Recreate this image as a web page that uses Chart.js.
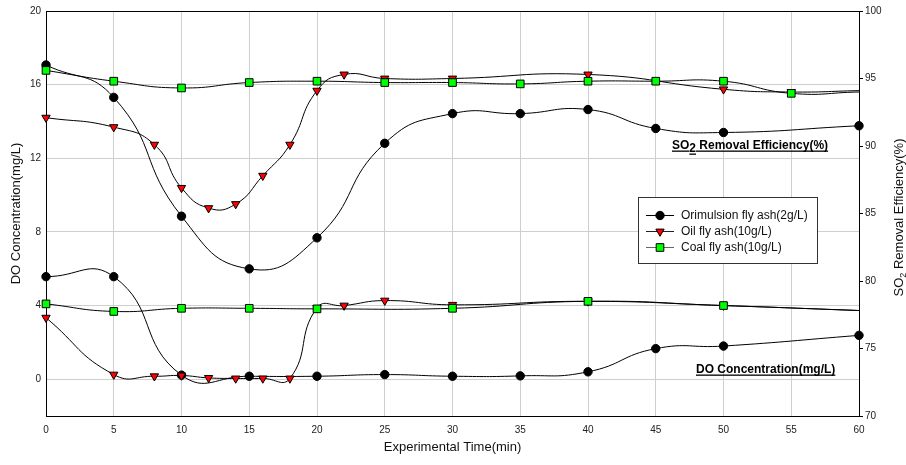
<!DOCTYPE html>
<html><head><meta charset="utf-8">
<script src="https://cdn.jsdelivr.net/npm/chart.js@4/dist/chart.umd.min.js"></script>
<style>html,body{margin:0;padding:0;background:#fff;}#wrap{width:906px;height:465px;position:relative}</style>
</head><body><div id="wrap"><canvas id="c" width="906" height="465"></canvas></div>
<script>
// ---- tick labels ----
const xTicks = [0,5,10,15,20,25,30,35,40,45,50,55,60];
const doTicks = [0,4,8,12,16,20];
const so2Ticks = [70,75,80,85,90,95,100];

// ---- SO2 removal efficiency (%), right axis ----
const orimSo2Time = [0,5,10,15,20,25,30,35,40,45,50,60];
const orimSo2     = [96.0,93.6,84.8,80.9,83.2,90.2,92.4,92.4,92.7,91.3,91.0,91.5];
const oilSo2Time  = [0,5,8,10,12,14,16,18,20,22,25,30,40,50,55,60];
const oilSo2      = [92.1,91.4,90.1,86.9,85.4,85.7,87.8,90.1,94.1,95.3,95.0,95.0,95.3,94.2,94.0,94.1];
const coalSo2Time = [0,5,10,15,20,25,30,35,40,45,50,55,60];
const coalSo2     = [95.6,94.8,94.3,94.7,94.8,94.7,94.7,94.6,94.8,94.8,94.8,93.9,94.0];

// ---- DO concentration (mg/L), left axis ----
const orimDoTime = [0,5,10,15,20,25,30,35,40,45,50,60];
const orimDo     = [5.57,5.57,0.22,0.16,0.16,0.25,0.16,0.18,0.40,1.66,1.80,2.38];
const oilDoTime  = [0,5,8,10,12,14,16,18,20,22,25,30,40,50,60];
const oilDo      = [3.34,0.25,0.16,0.20,0.07,0.04,0.04,0.04,3.87,4.00,4.27,4.04,4.23,4.00,3.73];
const coalDoTime = [0,5,10,15,20,30,40,50,60];
const coalDo     = [4.09,3.68,3.85,3.85,3.82,3.85,4.23,4.00,3.73];

const seriesNames = ['Orimulsion fly ash(2g/L)','Oil fly ash(10g/L)','Coal fly ash(10g/L)'];

const FONT = 'Arial, "Liberation Sans", sans-serif';
const styles = [
  {pointStyle:'circle', rotation:0, radius:4.2, fill:'#000000', order:3, legendLine:'#000'},
  {pointStyle:'triangle', rotation:180, radius:4.8, fill:'#ff0000', order:2, legendLine:'#222'},
  {pointStyle:'rect', rotation:0, radius:5.4, fill:'#00ff00', order:1, legendLine:'#666'}
];

function makeDs(idx, times, vals, axis, hideLast){
  const s = styles[idx];
  return {
    label: seriesNames[idx],
    data: times.map((t,i)=>({x:t, y:vals[i]})),
    yAxisID: axis,
    borderColor:'#000', borderWidth:1, tension:0.5, fill:false,
    pointStyle:s.pointStyle, rotation:s.rotation,
    pointBackgroundColor:s.fill, pointBorderColor:'#000', pointBorderWidth:1,
    pointRadius: c => (hideLast && c.raw && c.raw.x === 60) ? 0 : s.radius,
    pointHoverRadius: c => (hideLast && c.raw && c.raw.x === 60) ? 0 : s.radius,
    clip: 12, order: s.order
  };
}

function underlined(ctx, parts, x, y){
  let cx = x;
  for (const p of parts){
    const w = ctx.measureText(p.t).width;
    ctx.fillText(p.t, cx, y + p.dy);
    ctx.fillRect(cx, y + p.dy + 1.5, w, 1.3);
    cx += w;
  }
}

const deco = {
  id:'deco',
  afterDraw(chart){
    const ctx = chart.ctx, a = chart.chartArea;
    ctx.save();
    // top frame line
    ctx.strokeStyle = '#000'; ctx.lineWidth = 1;
    ctx.beginPath(); ctx.moveTo(a.left, Math.round(a.top)+0.5); ctx.lineTo(a.right+0.5, Math.round(a.top)+0.5); ctx.stroke();

    ctx.fillStyle = '#111';
    // axis titles
    ctx.font = '13px ' + FONT;
    ctx.textBaseline = 'middle'; ctx.textAlign = 'center';
    ctx.fillText('Experimental Time(min)', (a.left + a.right)/2, 447);
    ctx.save();
    ctx.translate(16, (a.top + a.bottom)/2);
    ctx.rotate(-Math.PI/2);
    ctx.fillText('DO Concentration(mg/L)', 0, 0);
    ctx.restore();
    // right title with subscript
    ctx.save();
    ctx.translate(898, (a.top + a.bottom)/2 + 4);
    ctx.rotate(-Math.PI/2);
    ctx.textAlign = 'left'; ctx.textBaseline = 'alphabetic';
    const p1 = 'SO', p3 = ' Removal Efficiency(%)';
    ctx.font = '13px ' + FONT;
    const w1 = ctx.measureText(p1).width, w3 = ctx.measureText(p3).width;
    ctx.font = '9px ' + FONT;
    const w2 = ctx.measureText('2').width;
    const tot = w1 + w2 + w3;
    let sx = -tot/2;
    ctx.font = '13px ' + FONT; ctx.fillText(p1, sx, 5); sx += w1;
    ctx.font = '9px ' + FONT; ctx.fillText('2', sx, 8); sx += w2;
    ctx.font = '13px ' + FONT; ctx.fillText(p3, sx, 5);
    ctx.restore();

    // bold underlined annotations
    ctx.fillStyle = '#000';
    ctx.font = 'bold 12px ' + FONT;
    ctx.textAlign = 'left'; ctx.textBaseline = 'alphabetic';
    underlined(ctx, [{t:'SO',dy:0},{t:'2',dy:3},{t:' Removal Efficiency(%)',dy:0}], 672, 149);
    underlined(ctx, [{t:'DO Concentration(mg/L)',dy:0}], 696, 373);

    // legend box
    const bx = 638, by = 197, bw = 179, bh = 66;
    ctx.fillStyle = '#fff'; ctx.fillRect(bx, by, bw, bh);
    ctx.strokeStyle = '#333'; ctx.lineWidth = 1;
    ctx.strokeRect(bx + 0.5, by + 0.5, bw, bh);
    const rows = [215, 231, 247];
    ctx.font = '12px ' + FONT; ctx.textBaseline = 'middle';
    styles.forEach((s, i) => {
      const y = rows[i];
      ctx.strokeStyle = s.legendLine; ctx.lineWidth = 1;
      ctx.beginPath(); ctx.moveTo(646, y + 0.5); ctx.lineTo(674, y + 0.5); ctx.stroke();
      ctx.fillStyle = s.fill; ctx.strokeStyle = '#000';
      Chart.helpers.drawPoint(ctx, {pointStyle:s.pointStyle, rotation:s.rotation, radius:s.radius, borderWidth:1}, 660, y + 0.5);
      ctx.fillStyle = '#111';
      ctx.fillText(seriesNames[i], 681, y + 1);
    });
    ctx.restore();
  }
};

new Chart(document.getElementById('c'), {
  type:'line',
  data:{ datasets:[
    makeDs(0, orimSo2Time, orimSo2, 'y1', false),
    makeDs(1, oilSo2Time, oilSo2, 'y1', true),
    makeDs(2, coalSo2Time, coalSo2, 'y1', true),
    makeDs(0, orimDoTime, orimDo, 'y', false),
    makeDs(1, oilDoTime, oilDo, 'y', true),
    makeDs(2, coalDoTime, coalDo, 'y', true)
  ]},
  options:{
    responsive:false, animation:false, devicePixelRatio:1, events:[],
    layout:{ padding:{ top:9, left:0, right:0, bottom:0 } },
    plugins:{ legend:{display:false}, tooltip:{enabled:false} },
    scales:{
      x:{ type:'linear', min:0, max:60,
        afterBuildTicks: s => { s.ticks = xTicks.map(v => ({value:v})); },
        afterFit: s => { s.height = 49; },
        ticks:{ font:{size:10, family:FONT}, color:'#222', padding:8, maxRotation:0, autoSkip:false },
        grid:{ color:'#cfcfcf', drawTicks:false },
        border:{ color:'#000', width:1 } },
      y:{ type:'linear', position:'left', min:-2, max:20,
        afterBuildTicks: s => { s.ticks = doTicks.map(v => ({value:v})); },
        afterFit: s => { s.width = 46; },
        ticks:{ font:{size:10, family:FONT}, color:'#222', padding:5 },
        grid:{ color:'#cfcfcf', drawTicks:false },
        border:{ color:'#000', width:1 } },
      y1:{ type:'linear', position:'right', min:70, max:100,
        afterBuildTicks: s => { s.ticks = so2Ticks.map(v => ({value:v})); },
        afterFit: s => { s.width = 47; },
        ticks:{ font:{size:10, family:FONT}, color:'#222', padding:2 },
        grid:{ drawOnChartArea:false, color:'#000', tickLength:4 },
        border:{ color:'#000', width:1 } }
    }
  },
  plugins:[deco]
});
</script></body></html>
